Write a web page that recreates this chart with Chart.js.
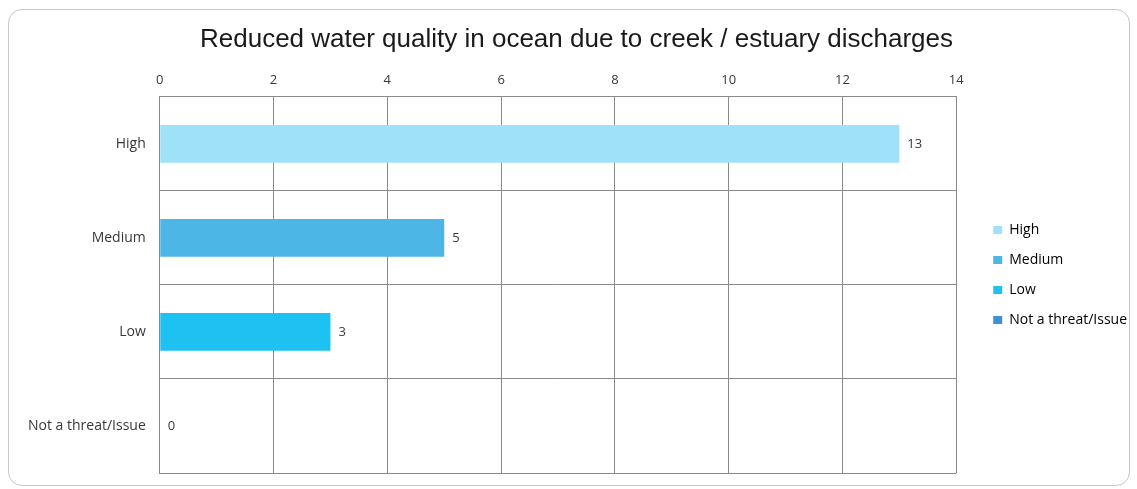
<!DOCTYPE html>
<html>
<head>
<meta charset="utf-8">
<script src="https://cdn.jsdelivr.net/npm/chart.js@4/dist/chart.umd.min.js"></script>
<style>
  html, body { margin: 0; padding: 0; background: #fff; }
  #wrap { position: relative; width: 1137px; height: 489px; }
  #frame {
    position: absolute; left: 8px; top: 9px; width: 1122px; height: 477px;
    border: 1px solid #c8c8c8; border-radius: 14px; box-sizing: border-box;
  }
  canvas { position: absolute; left: 0; top: 0; }
</style>
</head>
<body>
<div id="wrap">
  <div id="frame"></div>
  <canvas id="chart" width="1137" height="489"></canvas>
</div>
<script>
// Categorii și valori
const categories = ['High', 'Medium', 'Low', 'Not a threat/Issue'];
const counts = [13, 5, 3, 0];
const barColors = ['#9ee1f8', '#4cb6e6', '#1ec2f2', '#3f8fd6'];
const xTicks = [0, 2, 4, 6, 8, 10, 12, 14];

const textColor = '#383838';
const lineColor = '#8a8a8a';

// Plugin simplu pentru etichetele de valoare de lângă bare
const valueLabels = {
  id: 'valueLabels',
  afterDatasetsDraw(chart) {
    const ctx = chart.ctx;
    const meta = chart.getDatasetMeta(0);
    ctx.save();
    ctx.font = '13px "Open Sans"';
    ctx.fillStyle = textColor;
    ctx.textBaseline = 'middle';
    ctx.textAlign = 'left';
    meta.data.forEach((bar, i) => {
      ctx.fillText(String(counts[i]), bar.x + 8, bar.y);
    });
    ctx.restore();
  }
};

// Ridicăm puțin legenda față de centrul zonei graficului
const legendShift = {
  id: 'legendShift',
  afterLayout(chart) {
    const lg = chart.legend;
    if (lg) {
      lg.top -= 10;
      lg.bottom -= 10;
    }
  }
};

const ctx = document.getElementById('chart').getContext('2d');
new Chart(ctx, {
  type: 'bar',
  data: {
    labels: categories,
    datasets: [{
      data: counts,
      backgroundColor: barColors,
      barPercentage: 0.4,
      categoryPercentage: 1
    }]
  },
  options: {
    indexAxis: 'y',
    responsive: false,
    animation: false,
    layout: { padding: { left: 16, right: 0, top: 24, bottom: 16 } },
    plugins: {
      title: {
        display: true,
        text: 'Reduced water quality in ocean due to creek / estuary discharges',
        color: '#1a1a1a',
        font: { family: 'Liberation Sans', size: 26, weight: 'normal' },
        padding: { top: 0, bottom: 8 }
      },
      legend: {
        position: 'right',
        fullSize: false,
        labels: {
          boxWidth: 9,
          boxHeight: 8,
          padding: 16,
          color: textColor,
          font: { family: 'Open Sans', size: 14 },
          generateLabels() {
            return categories.map((c, i) => ({
              text: c,
              fillStyle: barColors[i],
              strokeStyle: barColors[i],
              lineWidth: 0,
              index: i
            }));
          }
        }
      },
      tooltip: { enabled: false }
    },
    scales: {
      x: {
        position: 'top',
        min: 0,
        max: 14,
        afterBuildTicks(scale) {
          scale.ticks = xTicks.map(v => ({ value: v }));
        },
        grid: { color: lineColor, drawTicks: false },
        border: { color: lineColor },
        ticks: { padding: 9, color: textColor, font: { family: 'Open Sans', size: 13 } }
      },
      y: {
        // spațiul dintre etichete și axă vine din liniuțe transparente
        grid: { color: lineColor, offset: true, tickLength: 14, tickColor: 'rgba(0,0,0,0)' },
        border: { color: lineColor },
        ticks: { padding: 0, color: textColor, font: { family: 'Open Sans', size: 14 } },
        afterFit(scale) { scale.width += 12; }
      },
      // axă goală, doar spațiu între grafic și legendă
      gap: {
        axis: 'y',
        type: 'linear',
        position: 'right',
        grid: { display: false },
        border: { display: false },
        ticks: { display: false },
        afterFit(scale) { scale.width = 21; }
      }
    }
  },
  plugins: [valueLabels, legendShift]
});
</script>
</body>
</html>
